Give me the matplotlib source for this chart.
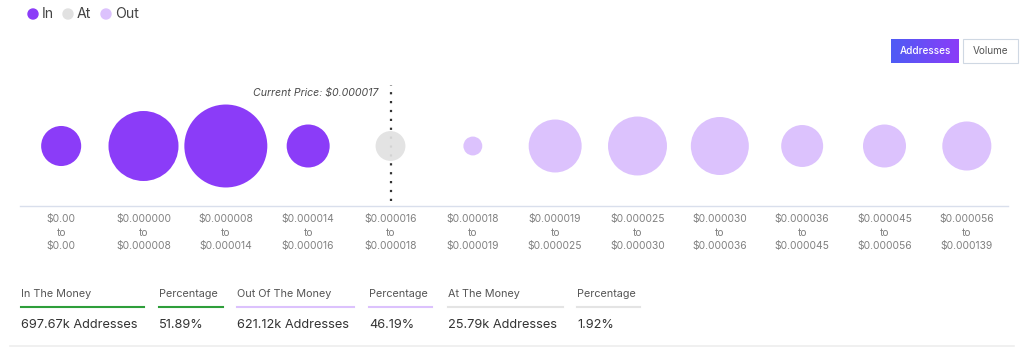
import matplotlib
matplotlib.use("Agg")
import matplotlib.pyplot as plt
from matplotlib.patches import Rectangle, Ellipse
from matplotlib.lines import Line2D
from matplotlib.colors import LinearSegmentedColormap
import numpy as np

W, H = 1024, 350
DPI = 100
plt.rcParams['font.family'] = ['Inter', 'DejaVu Sans']

# ---------------- data ----------------
range_low = ["$0.00", "$0.000000", "$0.000008", "$0.000014", "$0.000016", "$0.000018",
             "$0.000019", "$0.000025", "$0.000030", "$0.000036", "$0.000045", "$0.000056"]
range_high = ["$0.00", "$0.000008", "$0.000014", "$0.000016", "$0.000018", "$0.000019",
              "$0.000025", "$0.000030", "$0.000036", "$0.000045", "$0.000056", "$0.000139"]
status = ["In", "In", "In", "In", "At", "Out", "Out", "Out", "Out", "Out", "Out", "Out"]
addresses_k = [72, 220, 309, 83, 40, 16, 126, 156, 151, 79, 83, 108]
current_price_label = "Current Price: $0.000017"
current_bucket = 4

summary_labels = ["In The Money", "Percentage", "Out Of The Money", "Percentage",
                  "At The Money", "Percentage"]
summary_values = ["697.67k Addresses", "51.89%", "621.12k Addresses", "46.19%",
                  "25.79k Addresses", "1.92%"]

colors = {"In": "#8b3cf8", "At": "#e1e1e1", "Out": "#dcc2fd"}
underline_colors = ["#2e9e3a", "#2e9e3a", "#dcc2fd", "#dcc2fd", "#e4e4e4", "#e4e4e4"]

# ---------------- figure ----------------
fig = plt.figure(figsize=(W / DPI, H / DPI), dpi=DPI)
fig.patch.set_facecolor("white")

def fx(x):
    return x / W

def fy(y):
    return 1 - y / H

# main axes: x 20..1008 px, y 80..206 px
ax = fig.add_axes([fx(20), fy(206), (1008 - 20) / W, (206 - 80) / H])
ax.set_xlim(-0.5, len(status) - 0.5)
ax.set_ylim(0, 1)
for s in ["top", "right", "left"]:
    ax.spines[s].set_visible(False)
ax.spines["bottom"].set_color("#d9dfec")
ax.spines["bottom"].set_linewidth(1.0)
ax.set_yticks([])
x = np.arange(len(status))
ax.set_xticks(x)
ax.set_xticklabels([f"{a}\nto\n{b}" for a, b in zip(range_low, range_high)],
                   fontsize=7.4, color="#808080", linespacing=1.42)
ax.tick_params(axis="x", length=0, pad=6)

# dotted current-price line
ax.plot([current_bucket, current_bucket], [0.04, 0.96], linestyle=(0, (1, 3.0)),
        color="#333333", linewidth=1.6, zorder=1)
ax.text(current_bucket - 0.15, 0.9, current_price_label, ha="right", va="center",
        fontsize=7.6, style="italic", color="#4a4a4a")

# bubbles
y_center = (206 - 146) / (206 - 80)
diam_px = 4.72 * np.sqrt(np.array(addresses_k, dtype=float))
sizes = (diam_px * 72 / DPI) ** 2
ax.scatter(x, [y_center] * len(x), s=sizes, c=[colors[s] for s in status],
           edgecolors="none", zorder=3,
           alpha=[0.92 if s == "At" else 1.0 for s in status])

# ---------------- legend ----------------
leg_items = [("In", 33), ("At", 68), ("Out", 106)]
for name, xp in leg_items:
    fig.patches.append(Ellipse((fx(xp), fy(14)), 10 / W, 10 / H,
                               transform=fig.transFigure, color=colors[name]))
    fig.text(fx(xp + 9), fy(14.5), name, ha="left", va="center", fontsize=10.2,
             color="#444444")

# ---------------- buttons ----------------
btn_ax = fig.add_axes([fx(891), fy(63), (959 - 891) / W, (63 - 39) / H])
grad = np.linspace(0, 1, 256).reshape(1, -1)
cmap = LinearSegmentedColormap.from_list("btn", ["#4d5cf5", "#8b3cf8"])
btn_ax.imshow(grad, aspect="auto", cmap=cmap, extent=[0, 1, 0, 1])
btn_ax.set_axis_off()
btn_ax.text(0.5, 0.5, "Addresses", ha="center", va="center", color="white",
            fontsize=7.2, fontweight="medium")

fig.patches.append(Rectangle((fx(963), fy(63)), (1018 - 963) / W, (63 - 39) / H,
                             transform=fig.transFigure, facecolor="white",
                             edgecolor="#cfd8e3", linewidth=0.8))
fig.text(fx(990.5), fy(51), "Volume", ha="center", va="center", color="#555555",
         fontsize=7.2)

# ---------------- summary ----------------
label_x = [21, 159, 237, 369, 448, 577]
line_end = [144, 223, 354, 432, 563, 640]
for lbl, val, x0, x1, c in zip(summary_labels, summary_values, label_x, line_end,
                               underline_colors):
    fig.text(fx(x0), fy(294), lbl, ha="left", va="center", fontsize=7.8, color="#555555")
    fig.lines.append(Line2D([fx(x0), fx(x1)], [fy(307), fy(307)],
                            transform=fig.transFigure, color=c, linewidth=1.5))
    fig.text(fx(x0), fy(325), val, ha="left", va="center", fontsize=9.2, color="#333333")

# faint card bottom edge
fig.lines.append(Line2D([fx(10), fx(1014)], [fy(346), fy(346)],
                        transform=fig.transFigure, color="#eeeeee", linewidth=1.2))

fig.savefig("out.png", dpi=DPI, facecolor="white")
